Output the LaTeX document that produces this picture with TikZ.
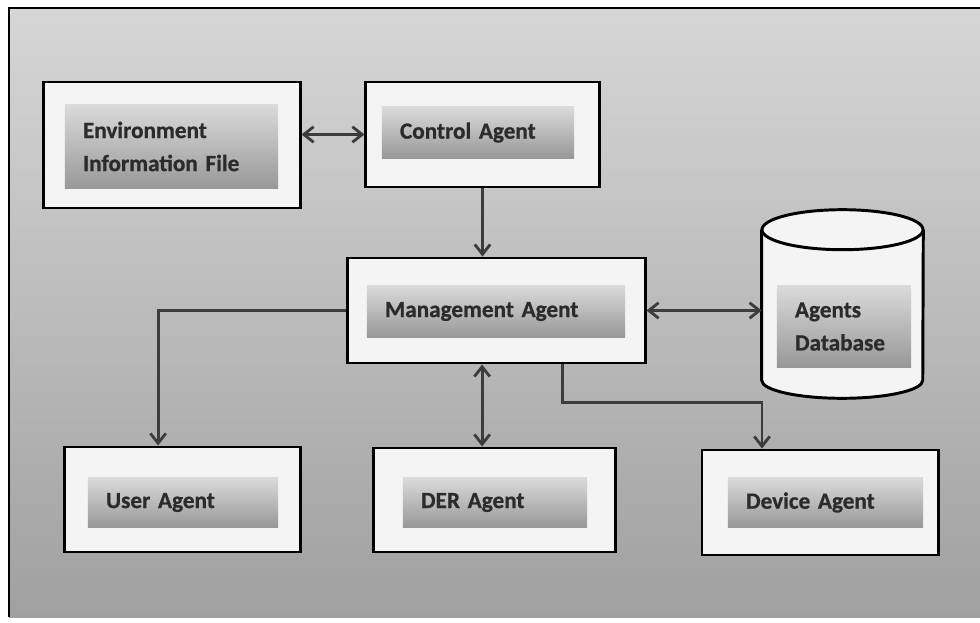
\documentclass[tikz,border=0pt]{standalone}
\usepackage{fontspec}
\setmainfont{Carlito}[BoldFeatures={FakeBold=0.8}]
\usetikzlibrary{arrows.meta}

\definecolor{bgtop}{HTML}{D6D6D6}
\definecolor{bgbot}{HTML}{A0A0A0}
\definecolor{boxfill}{HTML}{F4F4F4}
\definecolor{shadetop}{HTML}{DADADA}
\definecolor{shadebot}{HTML}{989898}
\definecolor{linkgray}{HTML}{3C3C3C}
\definecolor{textgray}{HTML}{2B2B2B}

\begin{document}
\begin{tikzpicture}
          [x=0.025cm,y=-0.025cm,
           outerbox/.style={rectangle,draw=black,line width=2.1pt,fill=boxfill},
           innerbox/.style={rectangle,top color=shadetop,bottom color=shadebot,
             inner xsep=0.45cm,inner ysep=0pt,align=left,text=textgray,
             font=\bfseries\fontsize{16.5}{23.5}\selectfont},
           link/.style={draw=linkgray,line width=2pt,-{Straight Barb[length=7pt,width=11pt]}},
           twoway/.style={link,{Straight Barb[length=7pt,width=11pt]}-{Straight Barb[length=7pt,width=11pt]}}]
          \useasboundingbox (0,0) rectangle (980,623);
          \shade[top color=bgtop,bottom color=bgbot] (9,8) rectangle (980,617);
          \draw[line width=1.5pt] (9,617) -- (9,8) -- (980,8);

          % outer frames
          \node[outerbox,minimum width=6.4cm,minimum height=3.15cm] (env) at (172,145) {};
          \node[outerbox,minimum width=5.825cm,minimum height=2.625cm] (ctrl) at (482.5,134.5) {};
          \node[outerbox,minimum width=7.425cm,minimum height=2.625cm] (mgmt) at (496.5,310.5) {};
          \node[outerbox,minimum width=5.875cm,minimum height=2.625cm] (user) at (182.5,499.5) {};
          \node[outerbox,minimum width=6.025cm,minimum height=2.6cm] (der) at (494.5,500) {};
          \node[outerbox,minimum width=5.9cm,minimum height=2.625cm] (dev) at (820,502.5) {};

          % database drum
          \node[rectangle,inner sep=0pt,minimum width=4.025cm,minimum height=3.75cm] (db) at (842.5,305) {};
          \filldraw[fill=boxfill,line width=2.1pt] (db.north west) -- (db.south west)
            arc[start angle=180,end angle=360,x radius=2.0125cm,y radius=0.45cm] -- (db.north east);
          \filldraw[fill=boxfill,line width=2.1pt] (db.north) ellipse[x radius=2.0125cm,y radius=0.5cm];

          % shaded labels
          \node[innerbox,text width=4.425cm,minimum height=2.075cm] (envin) at (171.5,146.5) {Environment\\Information File};
          \node[innerbox,text width=3.9cm,minimum height=1.275cm] (ctrlin) at (478,132.5) {Control Agent};
          \node[innerbox,text width=5.55cm,minimum height=1.275cm] (mgmtin) at (496,311.5) {Management Agent};
          \node[innerbox,text width=3.85cm,minimum height=1.225cm] (userin) at (183,502.5) {User Agent};
          \node[innerbox,text width=3.7cm,minimum height=1.225cm] (derin) at (495,502.5) {DER Agent};
          \node[innerbox,text width=3.975cm,minimum height=1.225cm] (devin) at (825.5,502.5) {Device Agent};
          \node[innerbox,text width=2.45cm,minimum height=2.025cm] (dbin) at (844,326.5) {Agents\\Database};

          \draw[twoway] (env.east |- ctrl.west) -- (ctrl.west);
          \draw[link] (ctrl.south) -- (ctrl.south |- mgmt.north);
          \draw[twoway] (mgmt.east) -- (mgmt.east -| db.west);
          \draw[link] (mgmt.west) -| ([xshift=-0.61cm]user.north);
          \draw[twoway] ([xshift=-0.31cm]der.north) -- ([xshift=-0.31cm]der.north |- mgmt.south);
          \draw[link] ([xshift=1.64cm]mgmt.south) -- ++(0,-0.95cm) -| ([xshift=-1.45cm]dev.north);

        \end{tikzpicture}
\end{document}
